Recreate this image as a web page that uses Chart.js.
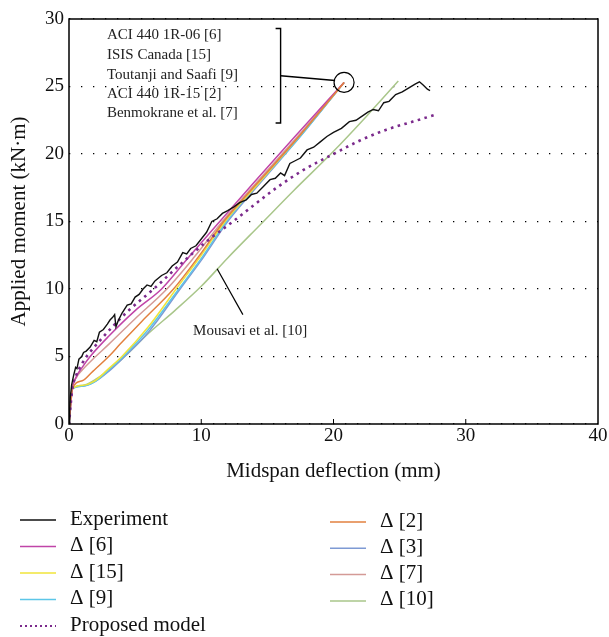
<!DOCTYPE html>
<html>
<head>
<meta charset="utf-8">
<script src="https://cdn.jsdelivr.net/npm/chart.js@4.4.1/dist/chart.umd.min.js"></script>
<style>
  html, body { margin: 0; padding: 0; background: #fff; }
</style>
</head>
<body>
<canvas id="momentChart" width="609" height="637"></canvas>
<script>
// axis ticks
const xTicks = [0, 10, 20, 30, 40];
const yTicks = [0, 5, 10, 15, 20, 25, 30];

// [deflection (mm), moment (kN·m)]
const experiment = [[0,0],[0.05,1.0],[0.1,2.0],[0.2,2.9],[0.35,3.6],[0.5,4.2],[0.6,4.1],[0.75,4.8],[0.96,5.0],[1.1,5.3],[1.3,5.4],[1.6,5.7],[1.9,6.2],[2.1,6.1],[2.3,6.8],[2.6,7.0],[2.9,7.4],[3.1,7.7],[3.3,7.9],[3.45,8.1],[3.55,7.2],[3.7,7.6],[4.0,8.2],[4.4,8.8],[4.7,8.9],[5.0,9.4],[5.3,9.6],[5.6,10.0],[5.9,10.3],[6.2,10.2],[6.5,10.6],[7.0,11.0],[7.4,11.2],[7.8,11.7],[8.2,12.0],[8.6,12.7],[8.9,12.6],[9.2,13.0],[9.6,13.2],[10.0,13.7],[10.4,14.2],[10.8,15.0],[11.2,15.2],[11.6,15.6],[12.0,15.8],[12.5,16.1],[12.9,16.4],[13.4,16.6],[13.8,17.0],[14.2,17.1],[14.7,17.6],[15.2,18.1],[15.6,18.2],[16.0,18.6],[16.3,18.4],[16.7,19.3],[17.1,19.5],[17.5,19.7],[18.0,20.3],[18.5,20.5],[19.0,20.9],[19.5,21.3],[20.0,21.6],[20.6,21.9],[21.2,22.4],[21.7,22.5],[22.3,22.9],[22.6,23.1],[23.0,23.3],[23.4,23.2],[23.8,23.8],[24.2,23.9],[24.7,24.4],[25.2,24.6],[25.7,24.9],[26.2,25.2],[26.5,25.35],[26.8,25.1],[27.1,24.8],[27.3,24.7]];
const delta6 = [[0,0],[0.25,2.6],[0.5,3.4],[1,4.2],[1.6,5.0],[3,6.5],[5,8.4],[7,10.0],[9,12.3],[11.4,15],[14,17.9],[17,21.2],[20.8,25.3]];
const delta15 = [[0,0],[0.25,2.6],[1,2.85],[1.9,3.15],[3,4.1],[4,5.0],[6,7.2],[8.1,10],[10,12.5],[11.8,15],[14.4,17.9],[17.3,21.2],[20.8,25.3]];
const delta9 = [[0,0],[0.25,2.6],[1,2.8],[1.9,3.1],[3,4.0],[4.1,5.0],[6,7.0],[8.3,10],[10.1,12.4],[11.9,15],[14.4,17.9],[17.4,21.2],[20.8,25.3]];
const delta2 = [[0,0],[0.25,2.6],[1,3.2],[1.8,3.9],[3,5.0],[3.85,5.9],[5.5,7.6],[7.9,10],[9.8,12.4],[11.7,15],[14.3,17.9],[17.3,21.2],[20.8,25.3]];
const delta3 = [[0,0],[0.25,2.6],[1,2.8],[1.9,3.1],[3,3.9],[4.2,5.0],[6,6.8],[8.4,10],[10.2,12.4],[12.0,15],[14.5,17.9],[17.4,21.2],[20.8,25.3]];
const delta7 = [[0,0],[0.25,2.6],[0.6,3.5],[1,4.0],[1.8,4.8],[3,5.9],[5,7.8],[7.4,10],[9.5,12.4],[11.6,15],[14.2,17.9],[17.2,21.2],[20.8,25.3]];
const delta10 = [[0,0],[0.25,2.6],[1,2.85],[2,3.3],[4,4.8],[6,6.7],[8,8.4],[10,10.2],[12,12.3],[14.5,14.8],[17,17.3],[20,20.2],[22.5,22.8],[24.9,25.4]];
const proposed = [[0,0],[0.25,2.6],[0.5,3.5],[1,4.5],[1.33,5.0],[2,5.8],[3,6.9],[4.5,8.4],[6.4,10],[8.5,11.9],[10.5,13.6],[12.4,15],[13.7,16.0],[15.7,17.5],[17.7,18.8],[20,20.0],[22,21.0],[24,21.8],[26,22.4],[27.7,22.9]];

const bracketLabels = ['ACI 440 1R-06 [6]', 'ISIS Canada [15]', 'Toutanji and Saafi [9]', 'ACI 440 1R-15 [2]', 'Benmokrane et al. [7]'];

Chart.defaults.font.family = '"Liberation Serif", "Times New Roman", serif';

const toPts = arr => arr.map(p => ({x: p[0], y: p[1]}));

function series(label, pts, color, extra) {
    return Object.assign({
        label: label,
        data: toPts(pts),
        borderColor: color,
        backgroundColor: color,
        borderWidth: 1.5,
        pointRadius: 0,
        fill: false,
        cubicInterpolationMode: 'monotone'
    }, extra || {});
}

// first dataset is drawn on top
let datasets = [
    series('Experiment', experiment, '#111111', {cubicInterpolationMode: 'default', tension: 0, borderWidth: 1.4}),
    series('Proposed model', proposed, '#7b2a8c', {borderWidth: 2.6, borderDash: [2.6, 4.4]}),
    series('Δ [2]', delta2, '#e2803f'),
    series('Δ [6]', delta6, '#c044a8'),
    series('Δ [7]', delta7, '#d49a96'),
    series('Δ [15]', delta15, '#f0e43a'),
    series('Δ [9]', delta9, '#5cc6e8'),
    series('Δ [3]', delta3, '#7e9ad4'),
    series('Δ [10]', delta10, '#a9c68a')
];

let legendLeft = ['Experiment', 'Δ [6]', 'Δ [15]', 'Δ [9]', 'Proposed model'];
let legendRight = ['Δ [2]', 'Δ [3]', 'Δ [7]', 'Δ [10]'];

let extras = {
    id: 'extras',
    afterDraw: function (chart) {
        let ctx = chart.ctx;
        let a = chart.chartArea;
        let sx = chart.scales.x, sy = chart.scales.y;
        let px = v => sx.getPixelForValue(v);
        let py = v => sy.getPixelForValue(v);
        ctx.save();

        // frame
        ctx.strokeStyle = '#000';
        ctx.lineWidth = 1.5;
        ctx.strokeRect(a.left, a.top, a.right - a.left, a.bottom - a.top);

        // inward ticks on x
        ctx.beginPath();
        xTicks.slice(1, -1).forEach(function (v) {
            ctx.moveTo(px(v), a.bottom);
            ctx.lineTo(px(v), a.bottom - 5);
        });
        ctx.lineWidth = 1;
        ctx.stroke();

        // bracket with labels
        ctx.fillStyle = '#222';
        ctx.font = '15px "Liberation Serif", serif';
        ctx.textBaseline = 'middle';
        ctx.textAlign = 'left';
        let rowsY = [28.8, 27.3, 25.85, 24.45, 23.0];
        bracketLabels.forEach(function (t, i) {
            ctx.fillText(t, px(2.87), py(rowsY[i]));
        });
        let bx = px(16.0);
        ctx.beginPath();
        ctx.moveTo(bx - 5, py(29.3));
        ctx.lineTo(bx, py(29.3));
        ctx.lineTo(bx, py(22.3));
        ctx.lineTo(bx - 5, py(22.3));
        ctx.lineWidth = 1.4;
        ctx.stroke();

        // pointer to circle at the end of the curves
        let cx = px(20.8), cy = py(25.3), r = 10;
        ctx.beginPath();
        ctx.moveTo(bx, py(25.8));
        ctx.lineTo(cx - r + 1, cy - 2);
        ctx.stroke();
        ctx.beginPath();
        ctx.arc(cx, cy, r, 0, Math.PI * 2);
        ctx.lineWidth = 1.2;
        ctx.stroke();

        // Mousavi label
        ctx.textAlign = 'center';
        ctx.fillText('Mousavi et al. [10]', px(13.7), py(6.9));
        ctx.beginPath();
        ctx.moveTo(px(11.2), py(11.5));
        ctx.lineTo(px(13.15), py(8.1));
        ctx.lineWidth = 1.2;
        ctx.stroke();

        // legend
        ctx.font = '21px "Liberation Serif", serif';
        ctx.textAlign = 'left';
        let drawItem = function (label, x0, y0) {
            let ds = datasets.find(d => d.label === label);
            ctx.beginPath();
            ctx.setLineDash(ds.borderDash ? [2, 3] : []);
            ctx.strokeStyle = ds.borderColor;
            ctx.lineWidth = ds.borderDash ? 2 : 1.5;
            ctx.moveTo(x0, y0);
            ctx.lineTo(x0 + 36, y0);
            ctx.stroke();
            ctx.setLineDash([]);
            ctx.fillStyle = '#111';
            ctx.fillText(label, x0 + 50, y0 - 1);
        };
        legendLeft.forEach((l, i) => drawItem(l, 20, 520 + i * 26.5));
        legendRight.forEach((l, i) => drawItem(l, 330, 522 + i * 26.3));

        ctx.restore();
    }
};

new Chart(document.getElementById('momentChart').getContext('2d'), {
    type: 'line',
    data: {datasets: datasets},
    options: {
        responsive: false,
        animation: false,
        devicePixelRatio: 1,
        layout: {padding: {left: 0, top: 19, right: 11, bottom: 148}},
        plugins: {legend: {display: false}, tooltip: {enabled: false}},
        scales: {
            x: {
                type: 'linear', min: 0, max: 40,
                afterBuildTicks: s => { s.ticks = xTicks.map(v => ({value: v})); },
                afterFit: s => { s.height = 65; s.paddingLeft = 0; s.paddingRight = 0; },
                grid: {drawOnChartArea: false, drawTicks: false},
                border: {display: false},
                ticks: {color: '#111', font: {size: 19}, padding: 1, maxRotation: 0},
                title: {display: true, text: 'Midspan deflection (mm)', color: '#111', font: {size: 21}, padding: {top: 6, bottom: 5}}
            },
            y: {
                type: 'linear', min: 0, max: 30,
                afterBuildTicks: s => { s.ticks = yTicks.map(v => ({value: v})); },
                afterFit: s => { s.width = 69; s.paddingTop = 0; s.paddingBottom = 0; },
                grid: {color: '#000', lineWidth: 1.3, drawTicks: false},
                border: {display: false, dash: [1.3, 10.7]},
                ticks: {color: '#111', font: {size: 19}, padding: 5},
                title: {display: true, text: 'Applied moment (kN·m)', color: '#111', font: {size: 21}, padding: {top: 7, bottom: 0}}
            }
        }
    },
    plugins: [extras]
});
</script>
</body>
</html>
